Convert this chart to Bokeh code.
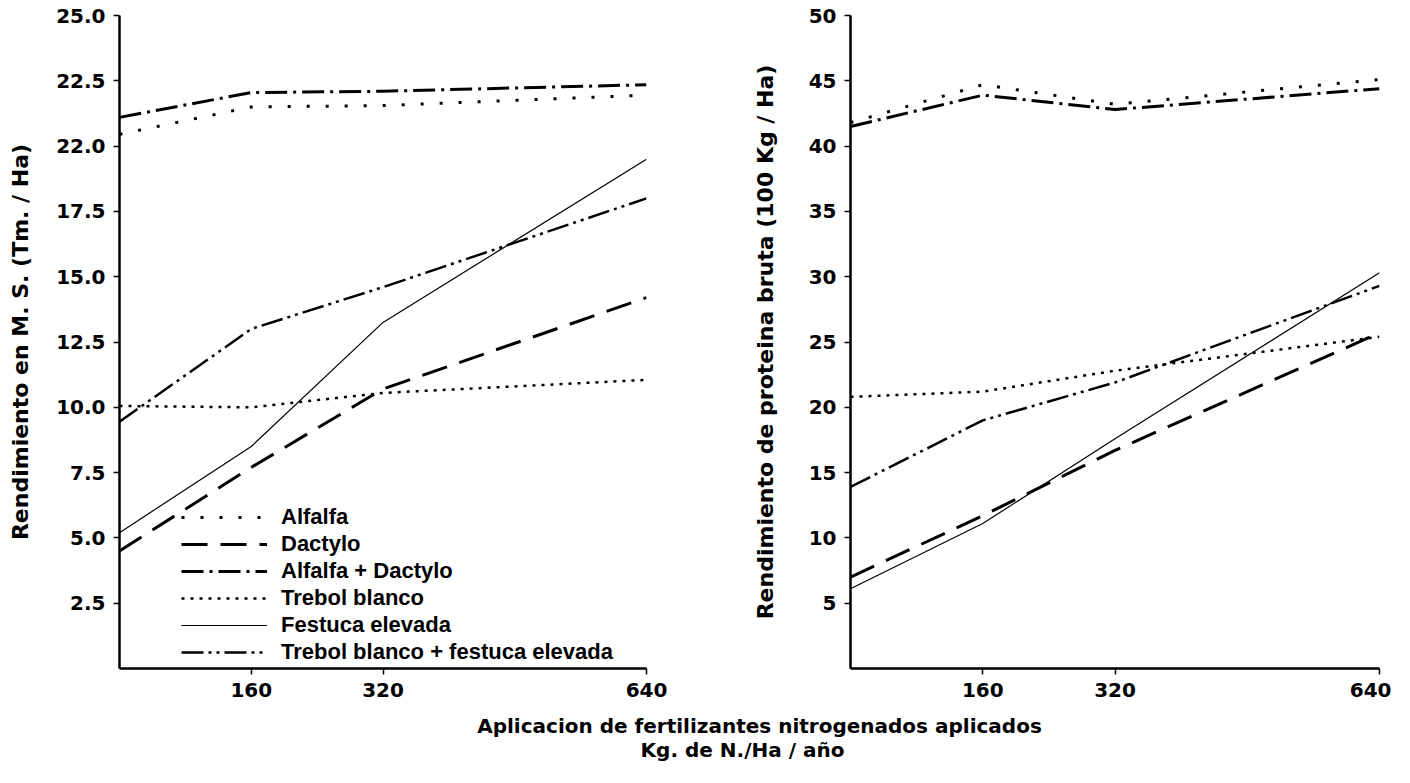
from bokeh.plotting import figure
from bokeh.models import Range1d, FixedTicker, Label
from bokeh.layouts import row, column
from bokeh.embed import file_html
from bokeh.resources import INLINE

# ---------------- data ----------------
nitrogen = [0, 160, 320, 640]
x_ticks = [160, 320, 640]
x_tick_labels = ["160", "320", "640"]

series_names = ["Alfalfa", "Dactylo", "Alfalfa + Dactylo", "Trebol blanco",
                "Festuca elevada", "Trebol blanco + festuca elevada"]

# Rendimiento en M. S. (Tm./Ha)
ms_alfalfa = [20.45, 21.5, 21.55, 21.95]
ms_dactylo = [4.5, 7.7, 10.7, 14.2]
ms_alfalfa_dactylo = [21.1, 22.05, 22.1, 22.35]
ms_trebol = [10.05, 10.0, 10.55, 11.05]
ms_festuca = [5.2, 8.5, 13.25, 19.5]
ms_trebol_festuca = [9.45, 13.0, 14.6, 18.0]

# Rendimiento de proteina bruta (100 Kg/Ha)
pb_alfalfa = [41.8, 44.7, 43.2, 45.1]
pb_dactylo = [7.0, 11.7, 16.7, 25.7]
pb_alfalfa_dactylo = [41.5, 43.9, 42.8, 44.4]
pb_trebol = [20.8, 21.2, 22.8, 25.4]
pb_festuca = [6.1, 11.1, 17.6, 30.3]
pb_trebol_festuca = [13.9, 19.0, 21.9, 29.3]

left_ticks = [2.5, 5, 7.5, 10, 12.5, 15, 17.5, 20, 22.5, 25]
left_tick_labels = ["2.5", "5.0", "7.5", "10.0", "12.5", "15.0", "17.5", "22.0", "22.5", "25.0"]
right_ticks = [5, 10, 15, 20, 25, 30, 35, 40, 45, 50]
right_tick_labels = ["5", "10", "15", "20", "25", "30", "35", "40", "45", "50"]

left_ylabel = "Rendimiento en M. S. (Tm. / Ha)"
right_ylabel = "Rendimiento de proteina bruta (100 Kg / Ha)"
xlabel_1 = "Aplicacion de fertilizantes nitrogenados aplicados"
xlabel_2 = "Kg. de N./Ha / año"

ms_series = [ms_alfalfa, ms_dactylo, ms_alfalfa_dactylo, ms_trebol, ms_festuca, ms_trebol_festuca]
pb_series = [pb_alfalfa, pb_dactylo, pb_alfalfa_dactylo, pb_trebol, pb_festuca, pb_trebol_festuca]

# ---------------- styles ----------------
styles = [
    dict(line_width=3, line_dash="3 16"),
    dict(line_width=3, line_dash="26 13"),
    dict(line_width=3, line_dash="22 6 3 6"),
    dict(line_width=2.5, line_dash="3 6"),
    dict(line_width=1.2, line_dash="solid"),
    dict(line_width=2.5, line_dash="22 5 3 5 3 5"),
]
FONT = "DejaVu Sans"


def style_axes(p, yticks, ylabels, ylabel, ystandoff):
    for ax in (p.xaxis[0], p.yaxis[0]):
        ax.axis_line_width = 2.5
        ax.axis_line_color = "black"
        ax.major_tick_line_width = 1.5
        ax.major_tick_line_color = "black"
        ax.major_tick_in = 0
        ax.major_tick_out = 6
        ax.minor_tick_line_color = None
        ax.major_label_text_font = FONT
        ax.major_label_text_font_style = "bold"
        ax.major_label_text_font_size = "20px"
        ax.major_label_text_color = "black"
        ax.major_label_standoff = 8
    p.xaxis.ticker = FixedTicker(ticks=x_ticks)
    p.xaxis.major_label_overrides = {t: l for t, l in zip(x_ticks, x_tick_labels)}
    p.yaxis.ticker = FixedTicker(ticks=yticks)
    p.yaxis.major_label_overrides = {t: l for t, l in zip(yticks, ylabels)}
    p.yaxis.axis_label = ylabel
    p.yaxis.axis_label_text_font = FONT
    p.yaxis.axis_label_text_font_style = "bold"
    p.yaxis.axis_label_text_font_size = "22px"
    p.yaxis.axis_label_text_color = "black"
    p.yaxis.axis_label_standoff = ystandoff
    p.xgrid.visible = False
    p.ygrid.visible = False
    p.outline_line_color = None
    p.background_fill_color = "white"
    p.border_fill_color = "white"


# ---------------- left panel ----------------
p1 = figure(width=676, height=708, output_backend="svg", toolbar_location=None,
            x_range=Range1d(0, 640), y_range=Range1d(0, 25),
            min_border_left=119, min_border_right=30, min_border_top=15, min_border_bottom=40)
style_axes(p1, left_ticks, left_tick_labels, left_ylabel, 20)
for name, ys, st in zip(series_names, ms_series, styles):
    p1.line(nitrogen, ys, line_color="black", legend_label=name, **st)

lg = p1.legend[0]
lg.location = (62, 3)
lg.background_fill_alpha = 0
lg.border_line_alpha = 0
lg.padding = 0
lg.margin = 0
lg.spacing = 1
lg.glyph_width = 86
lg.glyph_height = 22
lg.label_height = 22
lg.label_standoff = 14
lg.label_text_font = "Liberation Sans"
lg.label_text_font_style = "bold"
lg.label_text_font_size = "22px"
lg.label_text_color = "black"

# ---------------- right panel ----------------
p2 = figure(width=715, height=708, output_backend="svg", toolbar_location=None,
            x_range=Range1d(0, 640), y_range=Range1d(0, 50),
            min_border_left=174, min_border_right=12, min_border_top=9, min_border_bottom=39)
style_axes(p2, right_ticks, right_tick_labels, right_ylabel, 28)
for ys, st in zip(pb_series, styles):
    p2.line(nitrogen, ys, line_color="black", **st)

# ---------------- shared x title ----------------
p3 = figure(width=1391, height=59, output_backend="svg", toolbar_location=None,
            x_range=Range1d(0, 1391), y_range=Range1d(0, 59),
            x_axis_location=None, y_axis_location=None,
            min_border=0)
p3.xgrid.visible = False
p3.ygrid.visible = False
p3.outline_line_color = None
p3.add_layout(Label(x=759, y=42, text=xlabel_1, text_align="center", text_baseline="middle",
                    text_font=FONT, text_font_style="bold", text_font_size="20px",
                    text_color="black"))
p3.add_layout(Label(x=742, y=18, text=xlabel_2, text_align="center", text_baseline="middle",
                    text_font=FONT, text_font_style="bold", text_font_size="20px",
                    text_color="black"))

layout = column(row(p1, p2), p3)
open("out.html", "w").write(file_html(layout, INLINE))
